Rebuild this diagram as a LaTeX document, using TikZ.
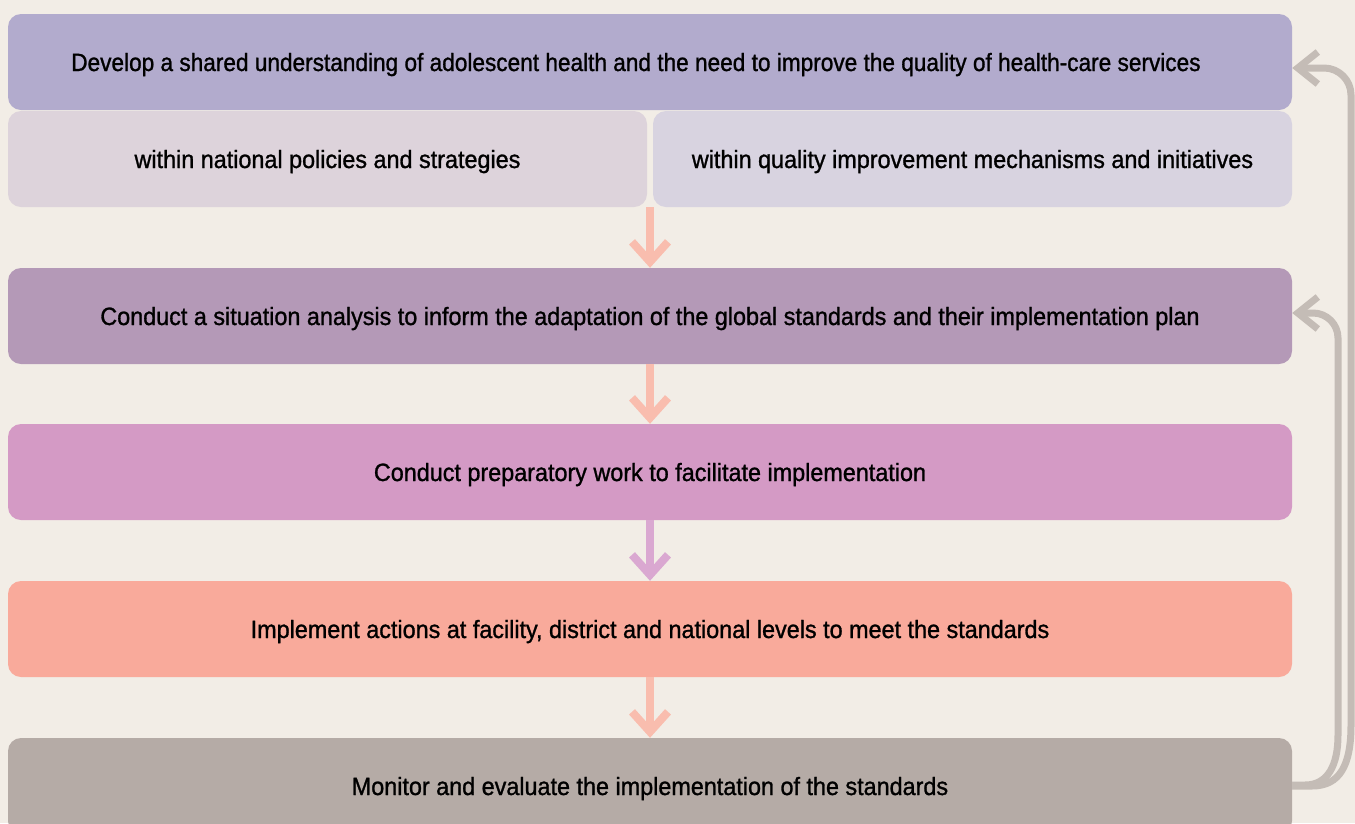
\documentclass[tikz,border=0pt]{standalone}
\usepackage{fontspec}
\setmainfont{Liberation Sans}[FakeStretch=0.935,FakeBold=1.1]
\newfontfamily\narrowfont{Liberation Sans}[FakeStretch=0.905,FakeBold=1.1]
\usetikzlibrary{arrows.meta}
\definecolor{bg}{HTML}{F2EDE6}
\definecolor{cA}{HTML}{B2ABCD}
\definecolor{cSL}{HTML}{DDD3DB}
\definecolor{cSR}{HTML}{D8D3E0}
\definecolor{cB}{HTML}{B499B7}
\definecolor{cC}{HTML}{D49AC5}
\definecolor{cD}{HTML}{F9AA9B}
\definecolor{cE}{HTML}{B5ABA6}
\definecolor{arS}{HTML}{F9BDAE}
\definecolor{arP}{HTML}{DAA8D1}
\definecolor{fb}{HTML}{C4BCB6}
\tikzset{
  box/.style={rounded corners=13pt, minimum height=96pt, inner sep=0pt, text height=18pt, text depth=0pt, font=\fontsize{25}{29}\selectfont, text=black},
  wide/.style={box, minimum width=1284pt},
  half/.style={box, minimum width=639pt},
  down/.style={line width=8pt, -{Straight Barb[length=20pt,width=36pt,line width=8pt]}},
  back/.style={line width=7pt, fb, -{Straight Barb[length=20pt,width=32pt,line width=7pt]}}
}
\begin{document}
\begin{tikzpicture}[x=1pt,y=-1pt]
\useasboundingbox (0,0) rectangle (1355,823);
\clip (0,0) rectangle (1355,823);
\fill[bg] (0,0) rectangle (1355,823);
\node[wide, fill=cA] (n1) at (650,62) {\narrowfont Develop a shared understanding of adolescent health and the need to improve the quality of health-care services\hspace*{28pt}};
\node[half, fill=cSL] (s1) at (327.5,159) {within national policies and strategies};
\node[half, fill=cSR] (s2) at (972.5,159) {within quality improvement mechanisms and initiatives};
\node[wide, fill=cB] (n2) at (650,316) {Conduct a situation analysis to inform the adaptation of the global standards and their implementation plan};
\node[wide, fill=cC] (n3) at (650,472) {Conduct preparatory work to facilitate implementation};
\node[wide, fill=cD] (n4) at (650,629) {Implement actions at facility, district and national levels to meet the standards};
\node[wide, fill=cE] (n5) at (650,786) {Monitor and evaluate the implementation of the standards};
\coordinate (m) at (650,207);
\draw[down, arS] (m) -- (n2.north);
\draw[down, arS] (n2.south) -- (n3.north);
\draw[down, arP] (n3.south) -- (n4.north);
\draw[down, arS] (n4.south) -- (n5.north);
\draw[back] (n5.east |- 0,785) -- (1305,785) .. controls (1328,785) and (1338,765) .. (1338,735) -- (1338,338) arc[start angle=0, end angle=90, radius=25pt] -- (n2.east |- 0,313);
\draw[back] (n5.east |- 0,786) -- (1312,786) .. controls (1340,786) and (1351,765) .. (1351,725) -- (1351,95) arc[start angle=0, end angle=90, radius=27pt] -- (n1.east |- 0,68);
\end{tikzpicture}
\end{document}
